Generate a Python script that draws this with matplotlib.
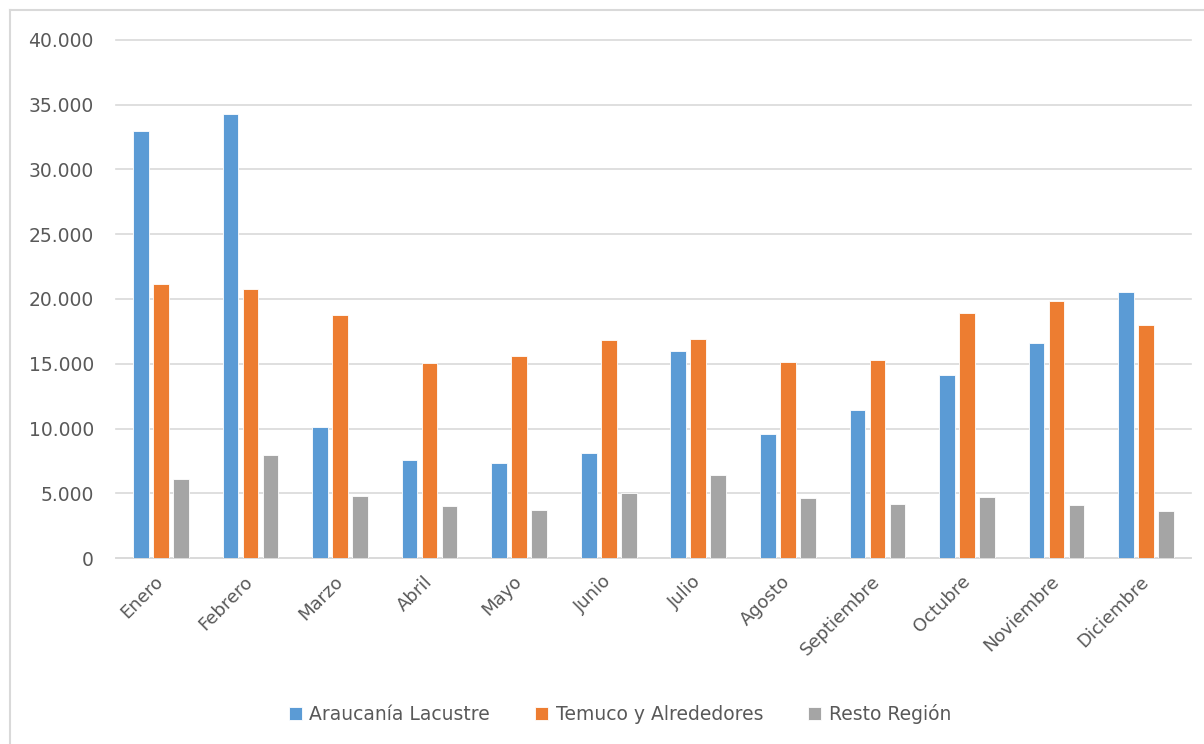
import numpy as np
import matplotlib.pyplot as plt
from matplotlib.lines import Line2D
from matplotlib.ticker import FuncFormatter, MultipleLocator

# Monthly values per zone
meses = ["Enero", "Febrero", "Marzo", "Abril", "Mayo", "Junio", "Julio",
         "Agosto", "Septiembre", "Octubre", "Noviembre", "Diciembre"]
araucania = [32950, 34250, 10100, 7580, 7350, 8070, 15980, 9560, 11420, 14120, 16630, 20540]
temuco = [21160, 20780, 18740, 15030, 15590, 16860, 16910, 15100, 15310, 18950, 19820, 17990]
resto = [6110, 7940, 4820, 4050, 3740, 5000, 6440, 4640, 4200, 4720, 4070, 3600]

series = ["Araucanía Lacustre", "Temuco y Alrededores", "Resto Región"]
colors = ["#5B9BD5", "#ED7D31", "#A5A5A5"]
text_color = "#595959"
grid_color = "#D9D9D9"

W, H = 1204, 744
fig = plt.figure(figsize=(W / 100, H / 100), dpi=100)
ax = fig.add_axes([116 / W, 1 - 558 / H, (1191 - 116) / W, (558 - 40) / H])

x = np.arange(len(meses))
step = 0.223
width = 0.175
for i, (vals, name, c) in enumerate(zip([araucania, temuco, resto], series, colors)):
    ax.bar(x + (i - 1) * step, vals, width, color=c, edgecolor="white",
           linewidth=0.6, label=name, zorder=3)

ax.set_xlim(-0.5, len(meses) - 0.5)
ax.set_ylim(0, 40000)
ax.yaxis.set_major_locator(MultipleLocator(5000))
ax.yaxis.set_major_formatter(FuncFormatter(lambda v, p: f"{int(v):,}".replace(",", ".")))
ax.grid(axis="y", color=grid_color, linewidth=1.2, zorder=0)
for gl in ax.get_ygridlines():
    gl.set_clip_on(False)

for s in ["top", "right", "left"]:
    ax.spines[s].set_visible(False)
ax.spines["bottom"].set_color(grid_color)
ax.spines["bottom"].set_linewidth(1.2)

ax.tick_params(axis="y", length=0, pad=16, labelsize=13.5, labelcolor=text_color)
ax.tick_params(axis="x", length=0, pad=15, labelsize=13, labelcolor=text_color)
ax.set_xticks(x)
ax.set_xticklabels(meses, rotation=45, ha="right", va="center", rotation_mode="anchor")

leg = fig.legend(loc="center", bbox_to_anchor=(0.515, 1 - 714 / H), ncol=3,
                 frameon=False, fontsize=13.5, handlelength=0.7, handleheight=0.7,
                 handletextpad=0.4, columnspacing=2.4)
for t in leg.get_texts():
    t.set_color(text_color)

# chart border (top and left edges visible)
fig.add_artist(Line2D([10 / W, 1], [1 - 10 / H, 1 - 10 / H], color=grid_color, linewidth=1.5))
fig.add_artist(Line2D([10 / W, 10 / W], [0, 1 - 10 / H], color=grid_color, linewidth=1.5))

fig.savefig("out.png", dpi=100)
